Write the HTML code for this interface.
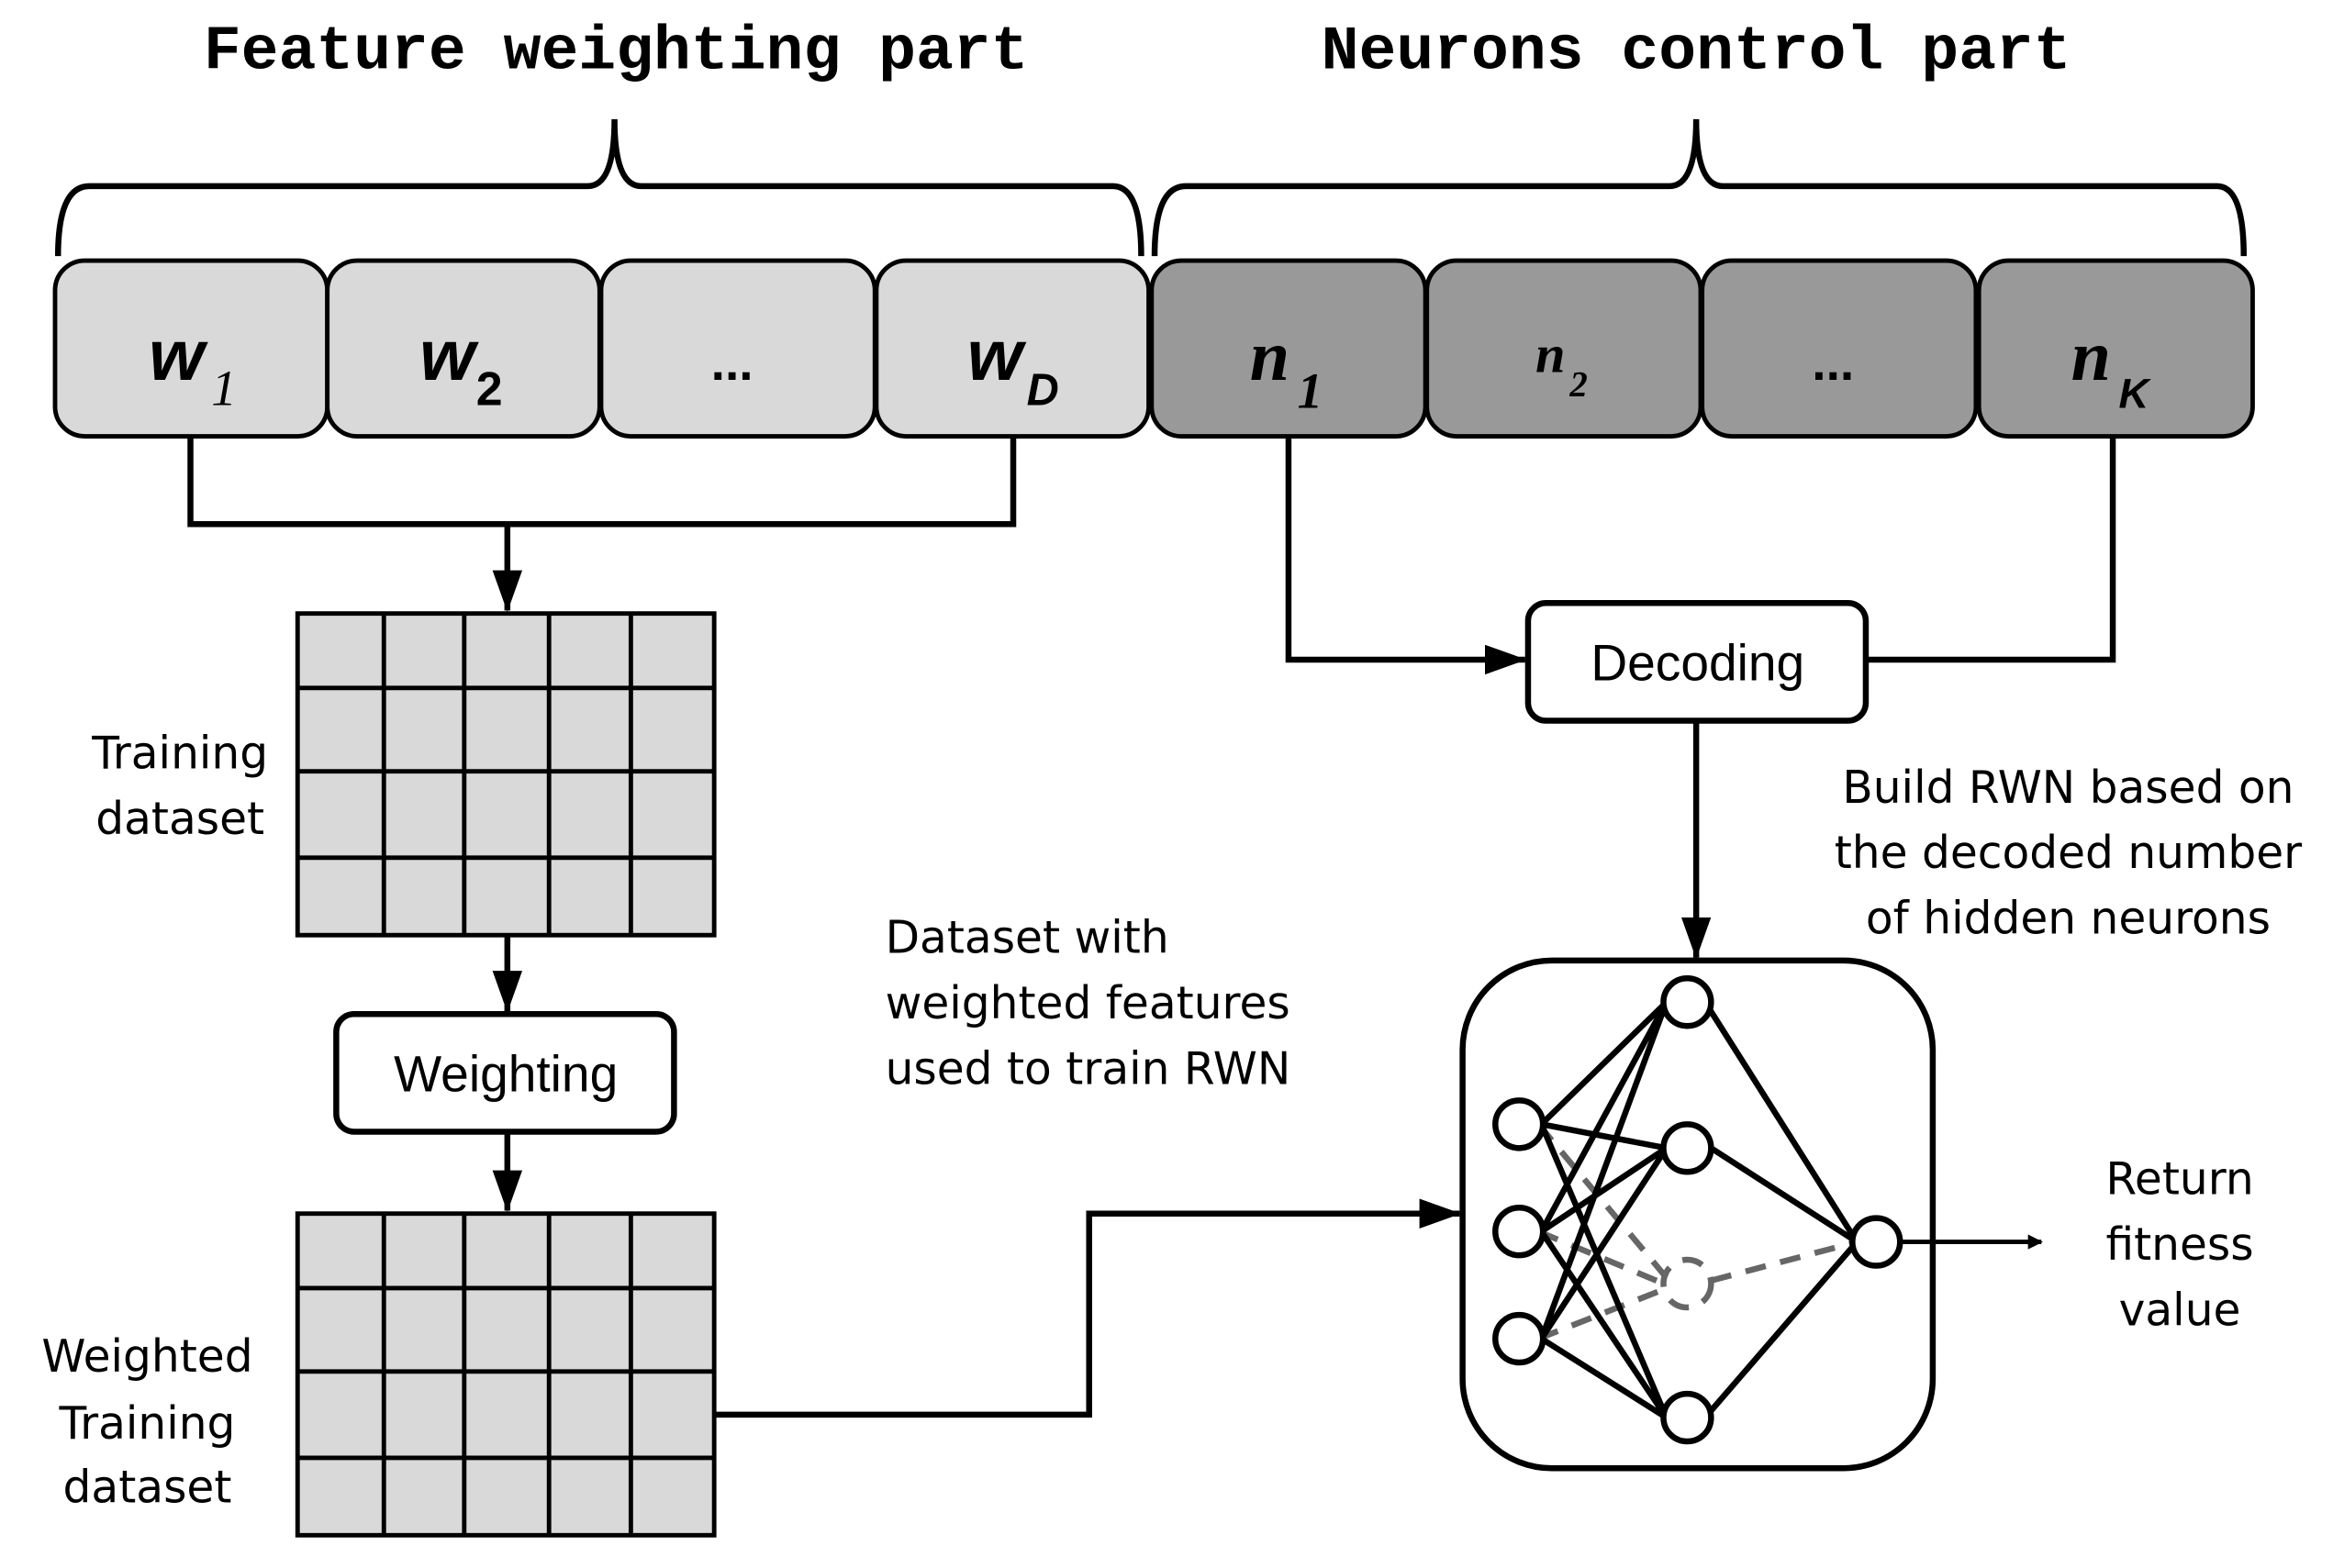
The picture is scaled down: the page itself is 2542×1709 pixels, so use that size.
<!DOCTYPE html>
<html><head><meta charset="utf-8"><style>html,body{margin:0;padding:0;background:#fff}svg{display:block}</style></head><body>
<svg width="2542" height="1709" viewBox="0 0 1568 1053" preserveAspectRatio="none" xmlns="http://www.w3.org/2000/svg">
<defs>
<marker id="a" markerWidth="10" markerHeight="10" refX="9" refY="5" orient="auto" markerUnits="userSpaceOnUse"><path d="M0,0 L10,5 L0,10 z" fill="#000"/></marker>
<marker id="b" markerWidth="28" markerHeight="20" refX="27" refY="10" orient="auto" markerUnits="userSpaceOnUse"><path d="M0,0 L28,10 L0,20 z" fill="#000"/></marker>
</defs>
<g font-family="Liberation Mono, monospace" font-weight="bold" font-size="42" text-anchor="middle">
<text x="414" y="46">Feature weighting part</text>
<text x="1140" y="46">Neurons control part</text>
</g>
<g fill="none" stroke="#000" stroke-width="4">
<path d="M39,172 Q39,125 60,125 L395,125 Q413,125 413,80 Q413,125 431,125 L748,125 Q767,125 767,172"/>
<path d="M776,172 Q776,125 797,125 L1122,125 Q1140,125 1140,80 Q1140,125 1158,125 L1490,125 Q1508,125 1508,172"/>
</g>
<g stroke="#000" stroke-width="3">
<rect x="37" y="175" width="183" height="118" rx="20" fill="#d9d9d9"/>
<rect x="220" y="175" width="183" height="118" rx="20" fill="#d9d9d9"/>
<rect x="404" y="175" width="184" height="118" rx="20" fill="#d9d9d9"/>
<rect x="589" y="175" width="183" height="118" rx="20" fill="#d9d9d9"/>
<rect x="774" y="175" width="184" height="118" rx="20" fill="#999"/>
<rect x="959" y="175" width="184" height="118" rx="20" fill="#999"/>
<rect x="1144" y="175" width="184" height="118" rx="20" fill="#999"/>
<rect x="1330" y="175" width="184" height="118" rx="20" fill="#999"/>
</g>
<g font-family="Liberation Sans, sans-serif" font-weight="bold" font-style="italic" font-size="48">
<text x="100" y="255">w</text><text x="142" y="272" font-family="Liberation Serif, serif" font-size="34" font-weight="normal">1</text>
<text x="282" y="255">w</text><text x="320" y="272" font-size="32" font-style="normal">2</text>
<text x="492" y="255" text-anchor="middle" font-style="normal" font-size="34">...</text>
<text x="650" y="255">w</text><text x="690" y="272" font-size="30">D</text>
<text x="840" y="255" font-family="Liberation Serif, serif">n</text><text x="872" y="274" font-family="Liberation Serif, serif" font-size="34">1</text>
<text x="1032" y="250" font-family="Liberation Serif, serif" font-size="36">n</text><text x="1055" y="266" font-family="Liberation Serif, serif" font-size="24">2</text>
<text x="1232" y="255" text-anchor="middle" font-style="normal" font-size="34">...</text>
<text x="1392" y="255" font-family="Liberation Serif, serif">n</text><text x="1424" y="274" font-size="28">K</text>
</g>
<g fill="none" stroke="#000" stroke-width="4">
<path d="M128,293 V352 H681 V293"/>
<path d="M341,352 V410" marker-end="url(#b)"/>
<path d="M341,628 V679" marker-end="url(#b)"/>
<path d="M341,760 V813" marker-end="url(#b)"/>
<path d="M480,950 H732 V815 H981" marker-end="url(#b)"/>
<path d="M866,293 V443 H1025" marker-end="url(#b)"/>
<path d="M1420,293 V443 H1254"/>
<path d="M1140,484 V643" marker-end="url(#b)"/>
</g>
<g stroke="#000" stroke-width="3" fill="#d9d9d9">
<rect x="200" y="412" width="280" height="216"/>
<path d="M258,412V628M312,412V628M369,412V628M424,412V628M200,462H480M200,518H480M200,576H480" fill="none"/>
<rect x="200" y="815" width="280" height="216"/>
<path d="M258,815V1031M312,815V1031M369,815V1031M424,815V1031M200,865H480M200,921H480M200,979H480" fill="none"/>
</g>
<rect x="226" y="681" width="227" height="79" rx="12" fill="#fff" stroke="#000" stroke-width="4"/>
<rect x="1027" y="405" width="227" height="79" rx="12" fill="#fff" stroke="#000" stroke-width="4"/>
<rect x="983" y="645" width="316" height="341" rx="60" fill="#fff" stroke="#000" stroke-width="4"/>
<g font-family="Liberation Sans, sans-serif" font-size="34" text-anchor="middle">
<text x="340" y="733">Weighting</text>
<text x="1141" y="457">Decoding</text>
</g>
<g font-family="DejaVu Sans, sans-serif" font-size="30" text-anchor="middle" fill="#000">
<text x="121" y="516">Training</text><text x="121" y="560">dataset</text>
<text x="99" y="921">Weighted</text><text x="99" y="966">Training</text><text x="99" y="1009">dataset</text>
<text x="595" y="640" text-anchor="start">Dataset with</text>
<text x="595" y="684" text-anchor="start">weighted features</text>
<text x="595" y="728" text-anchor="start">used to train RWN</text>
<text x="1390" y="539">Build RWN based on</text>
<text x="1390" y="583">the decoded number</text>
<text x="1390" y="627">of hidden neurons</text>
<text x="1465" y="802">Return</text><text x="1465" y="846">fitness</text><text x="1465" y="890">value</text>
</g>
<g stroke="#666" stroke-width="4" stroke-dasharray="14,10" fill="none">
<path d="M1034,755 L1120,858 M1034,827 L1118,862 M1034,899 L1118,866 M1150,860 L1248,834"/>
<circle cx="1134" cy="862" r="16"/>
</g>
<g stroke="#000" stroke-width="4" fill="none">
<path d="M1036,755 L1120,673 M1036,755 L1120,771 M1036,755 L1120,952 M1036,827 L1120,673 M1036,827 L1120,771 M1036,827 L1120,952 M1036,899 L1120,673 M1036,899 L1120,771 M1036,899 L1120,952 M1146,673 L1248,834 M1150,771 L1248,834 M1146,952 L1248,834"/>
<path d="M1277,834 H1372" stroke-width="3" marker-end="url(#a)"/>
</g>
<g stroke="#000" stroke-width="4" fill="#fff">
<circle cx="1021" cy="755" r="16"/><circle cx="1021" cy="827" r="16"/><circle cx="1021" cy="899" r="16"/>
<circle cx="1134" cy="673" r="16"/><circle cx="1134" cy="771" r="16"/><circle cx="1134" cy="952" r="16"/>
<circle cx="1261" cy="834" r="16"/>
</g>
</svg>
</body></html>
